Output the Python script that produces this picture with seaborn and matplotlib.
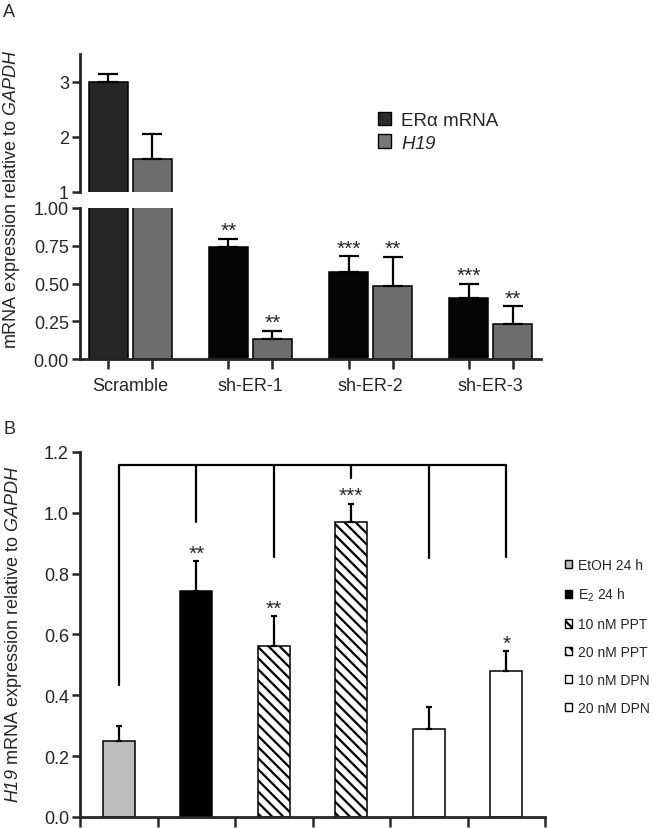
import numpy as np
import pandas as pd
import matplotlib
matplotlib.use("Agg")
import matplotlib.pyplot as plt
import seaborn as sns
from matplotlib.patches import Patch

sns.set_theme(style="ticks")
plt.rcParams['font.family'] = ['Liberation Sans', 'DejaVu Sans']
# math text is only used for italic gene names (digits included) and the E2 subscript
plt.rcParams['mathtext.fontset'] = 'custom'
plt.rcParams['mathtext.rm'] = 'Liberation Sans:italic'
plt.rcParams['mathtext.it'] = 'Liberation Sans:italic'
plt.rcParams['mathtext.sf'] = 'Liberation Sans'
plt.rcParams['hatch.linewidth'] = 1.6
plt.rcParams['hatch.color'] = 'black'

# ---- panel A data ----
groups_a = ["Scramble", "sh-ER-1", "sh-ER-2", "sh-ER-3"]
series_a = ["ERα mRNA", "H19"]
era_mean = [3.0, 0.74, 0.575, 0.405]
era_err = [0.13, 0.055, 0.105, 0.095]
h19_mean = [1.6, 0.13, 0.485, 0.235]
h19_err = [0.45, 0.057, 0.19, 0.115]
era_stars = ["", "**", "***", "***"]
h19_stars = ["", "**", "**", "**"]

# ---- panel B data ----
treat_b = ["EtOH 24 h", "E2 24 h", "10 nM PPT", "20 nM PPT", "10 nM DPN", "20 nM DPN"]
legend_b = ["EtOH 24 h", "E$_{\\mathsf{2}}$ 24 h", "10 nM PPT", "20 nM PPT", "10 nM DPN", "20 nM DPN"]
b_mean = [0.25, 0.743, 0.562, 0.97, 0.29, 0.48]
b_err = [0.05, 0.097, 0.098, 0.06, 0.07, 0.065]
b_stars = ["", "**", "**", "***", "", "*"]
bracket_top = 1.158
bracket_ends = [0.434, 0.97, 0.855, 1.115, 0.85, 0.855]

b_face = ["#bdbdbd", "#000000", "white", "white", "white", "white"]
b_hatch = [None, None, "\\\\\\", "\\\\\\", None, None]

fig = plt.figure(figsize=(6.52, 8.29), dpi=100)

ax_top = fig.add_axes([0.1227, 0.7672, 0.7071, 0.1665])
ax_bot = fig.add_axes([0.1227, 0.5657, 0.7071, 0.1822])
ax_b = fig.add_axes([0.1227, 0.01327, 0.7132, 0.4403])

df_a = pd.DataFrame({
    "group": groups_a * 2,
    "series": [series_a[0]] * 4 + [series_a[1]] * 4,
    "value": era_mean + h19_mean,
})

spine_lw = 2.0
for ax in (ax_top, ax_bot):
    sns.barplot(data=df_a, x="group", y="value", hue="series",
                palette=["#050505", "#6d6d6d"], width=0.733, gap=0.114,
                edgecolor="black", linewidth=1.1, errorbar=None,
                legend=False, ax=ax)
    ax.containers[0][0].set_facecolor("#262626")
    for cont, means, errs in zip(ax.containers[:2], (era_mean, h19_mean), (era_err, h19_err)):
        xs = [p.get_x() + p.get_width() / 2 for p in cont]
        ax.errorbar(xs, means, yerr=[np.zeros(len(errs)), errs], fmt="none",
                    ecolor="black", elinewidth=1.6, capsize=7, capthick=1.6)
    ax.set_xlim(-0.42, 3.42)
    ax.set_xlabel("")
    ax.set_ylabel("")
    for s in ("top", "right"):
        ax.spines[s].set_visible(False)
    for s in ("left", "bottom"):
        ax.spines[s].set_linewidth(spine_lw)
    ax.tick_params(axis="y", direction="out", length=6, width=1.8, labelsize=13, pad=2)

ax_top.set_ylim(1, 3.5)
ax_top.set_yticks([1, 2, 3])
ax_top.spines["bottom"].set_visible(False)
ax_top.tick_params(axis="x", bottom=False, labelbottom=False)

ax_bot.set_ylim(0, 1.0)
ax_bot.set_yticks([0, 0.25, 0.5, 0.75, 1.0])
ax_bot.set_yticklabels(["0.00", "0.25", "0.50", "0.75", "1.00"])
bar_x = sorted(p.get_x() + p.get_width() / 2 for c in ax_bot.containers[:2] for p in c)
ax_bot.set_xticks(bar_x)
ax_bot.set_xticklabels([])
ax_bot.tick_params(axis="x", direction="out", length=7, width=1.8)
ax_bot.set_xticks(range(len(groups_a)), minor=True)
ax_bot.set_xticklabels(groups_a, minor=True)
ax_bot.tick_params(axis="x", which="minor", length=0, labelsize=13, pad=13)

for cont, means, errs, stars in zip(ax_bot.containers[:2], (era_mean, h19_mean),
                                    (era_err, h19_err), (era_stars, h19_stars)):
    for p, m, e, st in zip(cont, means, errs, stars):
        if st:
            ax_bot.annotate(st, (p.get_x() + p.get_width() / 2, m + e),
                            xytext=(0, 2), textcoords="offset points",
                            ha="center", va="baseline", fontsize=15)

leg_a = [Patch(facecolor="#2b2b2b", edgecolor="black", linewidth=1.0, label="ERα mRNA"),
         Patch(facecolor="#777777", edgecolor="black", linewidth=1.0, label="$H19$")]
ax_top.legend(handles=leg_a, loc="center left", bbox_to_anchor=(0.58, 0.840),
              bbox_transform=fig.transFigure, frameon=False, fontsize=13.5,
              handlelength=0.7, handleheight=0.7, handletextpad=0.5,
              labelspacing=0.3, borderaxespad=0, borderpad=0)

fig.text(0.018, 0.759, "mRNA expression relative to $GAPDH$", rotation=90,
         ha="center", va="center", fontsize=13)
fig.text(0.005, 0.985, "A", fontsize=13, ha="left", va="center")

# ---- panel B ----
sns.barplot(x=treat_b, y=b_mean, hue=treat_b, palette=b_face, legend=False,
            width=0.41, edgecolor="black", linewidth=1.1, errorbar=None, ax=ax_b)
bx = []
for p, h in zip(ax_b.patches, b_hatch):
    if h:
        p.set_hatch(h)
    bx.append(p.get_x() + p.get_width() / 2)
ax_b.errorbar(bx, b_mean, yerr=[np.zeros(len(b_err)), b_err], fmt="none",
              ecolor="black", elinewidth=1.6, capsize=2.5, capthick=1.6)
for x, m, e, st in zip(bx, b_mean, b_err, b_stars):
    if st:
        ax_b.annotate(st, (x, m + e), xytext=(0, 2), textcoords="offset points",
                      ha="center", va="baseline", fontsize=15)

ax_b.plot([bx[0], bx[-1]], [bracket_top, bracket_top], color="black", lw=1.6,
          solid_capstyle="butt")
for x, yend in zip(bx, bracket_ends):
    ax_b.plot([x, x], [bracket_top, yend], color="black", lw=1.6)

ax_b.set_xlim(-0.5, 5.5)
ax_b.set_ylim(0, 1.2)
ax_b.set_yticks(np.arange(0, 1.21, 0.2))
ax_b.set_yticklabels([f"{v:.1f}" for v in np.arange(0, 1.21, 0.2)])
ax_b.set_xticks(np.arange(-0.5, 6, 1))
ax_b.set_xticklabels([])
for s in ("top", "right"):
    ax_b.spines[s].set_visible(False)
for s in ("left", "bottom"):
    ax_b.spines[s].set_linewidth(spine_lw)
ax_b.tick_params(axis="y", direction="out", length=6, width=1.8, labelsize=13, pad=2)
ax_b.tick_params(axis="x", direction="out", length=7, width=1.8)
ax_b.set_xlabel("")
ax_b.set_ylabel("")

leg_b = [Patch(facecolor=f, edgecolor="black", hatch=h, linewidth=1.0, label=l)
         for f, h, l in zip(b_face, b_hatch, legend_b)]
fig.legend(handles=leg_b, loc="center left", bbox_to_anchor=(0.866, 0.231),
           frameon=False, fontsize=10, handlelength=0.55, handleheight=0.55,
           handletextpad=0.4, labelspacing=1.0, borderaxespad=0, borderpad=0)

fig.text(0.02, 0.235, "$H19$ mRNA expression relative to $GAPDH$",
         rotation=90, ha="center", va="center", fontsize=13)
fig.text(0.005, 0.4825, "B", fontsize=13, ha="left", va="center")

fig.savefig("out.png", dpi=100)
